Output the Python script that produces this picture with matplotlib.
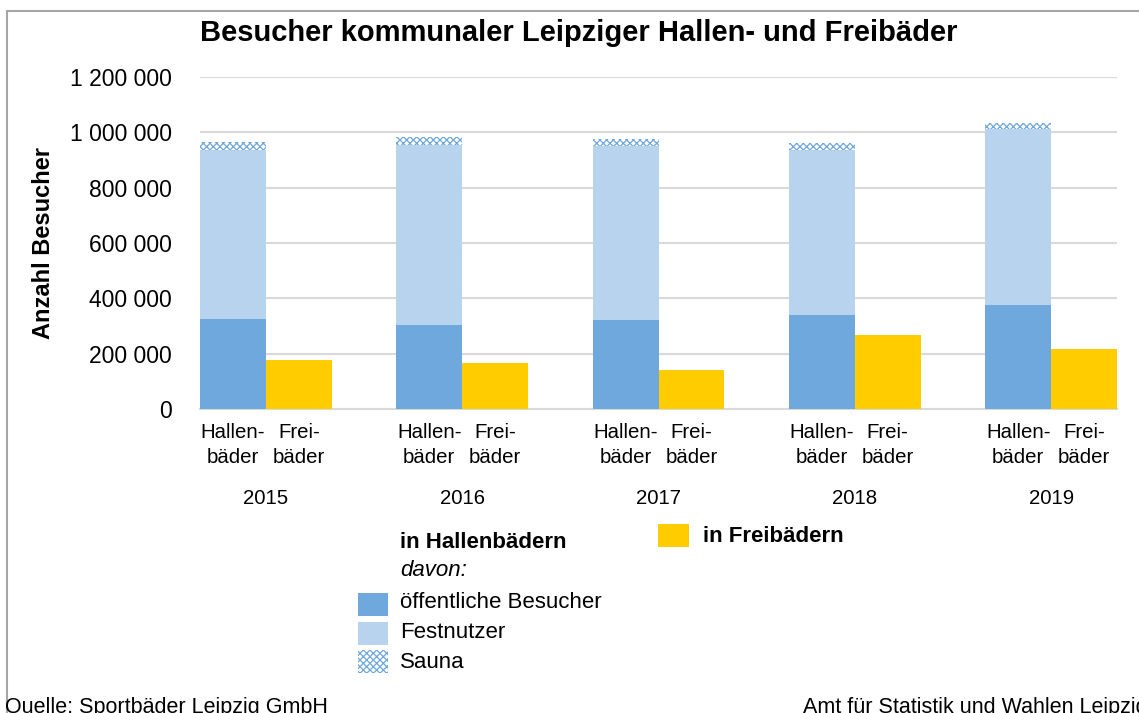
import matplotlib
matplotlib.use("Agg")
import matplotlib.pyplot as plt
from matplotlib.patches import Rectangle
from matplotlib.ticker import FuncFormatter, MultipleLocator

plt.rcParams["font.family"] = ["Liberation Sans", "DejaVu Sans"]
plt.rcParams["hatch.linewidth"] = 0.9

# Data
years = ["2015", "2016", "2017", "2018", "2019"]
oeffentlich = [326000, 304000, 322000, 341000, 377000]
festnutzer = [609000, 652000, 628000, 594000, 634000]
sauna = [29000, 26000, 25000, 25000, 24000]
freibad = [177000, 167000, 141000, 268000, 217000]
sub_labels = ["Hallen-\nbäder", "Frei-\nbäder"]

C_OEFF = "#6FA8DC"
C_FEST = "#B8D3ED"
C_SAUNA = "#6FA8DC"
C_FREI = "#FFCC00"
C_GRID = "#D9D9D9"

W, H = 1139, 713
fig = plt.figure(figsize=(W / 100, H / 100), dpi=100)


def fx(px):
    return px / W


def fy(py):
    return 1 - py / H


# Outer frame
fig.patches.append(Rectangle((fx(7), fy(760)), fx(1200), (760 - 11) / H,
                             transform=fig.transFigure, fill=False,
                             edgecolor="#A6A6A6", linewidth=1.5))

ax_left, ax_right, ax_top, ax_bottom = 200, 1117, 77, 409
ax = fig.add_axes([fx(ax_left), fy(ax_bottom), (ax_right - ax_left) / W,
                   (ax_bottom - ax_top) / H])

w = 0.3356
x = list(range(len(years)))
xh = [i - w / 2 for i in x]
xf = [i + w / 2 for i in x]

ax.bar(xh, oeffentlich, width=w, color=C_OEFF, linewidth=0, zorder=3)
ax.bar(xh, festnutzer, width=w, bottom=oeffentlich, color=C_FEST, linewidth=0, zorder=3)
base2 = [a + b for a, b in zip(oeffentlich, festnutzer)]
ax.bar(xh, sauna, width=w, bottom=base2, color="white", edgecolor=C_SAUNA,
       hatch="xxxxx", linewidth=0, zorder=3)
ax.bar(xf, freibad, width=w, color=C_FREI, linewidth=0, zorder=3)

ax.set_xlim(-w, len(years) - 1 + w)
ax.set_ylim(0, 1200000)
ax.yaxis.set_major_locator(MultipleLocator(200000))
ax.yaxis.set_major_formatter(FuncFormatter(lambda v, _: f"{int(v):,}".replace(",", " ")))
ax.grid(axis="y", color=C_GRID, linewidth=1.5, zorder=0)
ax.set_axisbelow(True)
for s in ["top", "right", "left"]:
    ax.spines[s].set_visible(False)
ax.spines["bottom"].set_color(C_GRID)
ax.spines["bottom"].set_linewidth(1.5)
ax.set_xticks([])
ax.tick_params(axis="y", length=0, pad=20.5, labelsize=16.5, labelcolor="#000000")

# Category labels (two levels)
for i, yr in enumerate(years):
    for xpos, lab in zip((xh[i], xf[i]), sub_labels):
        ax.annotate(lab, xy=(xpos, 0), xycoords=("data", "axes fraction"),
                    xytext=(0, -14), textcoords="offset pixels",
                    ha="center", va="top", fontsize=14.7, linespacing=1.38)
    ax.annotate(yr, xy=(x[i], 0), xycoords=("data", "axes fraction"),
                xytext=(0, -89), textcoords="offset pixels",
                ha="center", va="center", fontsize=14.7)

# Title and axis label
fig.text(fx(579), fy(33), "Besucher kommunaler Leipziger Hallen- und Freibäder",
         ha="center", va="center", fontsize=21, fontweight="bold")
fig.text(fx(44), fy(243), "Anzahl Besucher", rotation=90, ha="center", va="center",
         fontsize=17, fontweight="bold")

# Legend
def legend_patch(x0, y0, x1, y1, **kw):
    fig.patches.append(Rectangle((fx(x0), fy(y1)), (x1 - x0) / W, (y1 - y0) / H,
                                 transform=fig.transFigure, linewidth=0, **kw))


fig.text(fx(400), fy(542), "in Hallenbädern", ha="left", va="center",
         fontsize=16, fontweight="bold")
fig.text(fx(400), fy(571), "davon:", ha="left", va="center", fontsize=16, style="italic")
legend_patch(358, 593, 388, 616, facecolor=C_OEFF)
fig.text(fx(400), fy(603), "öffentliche Besucher", ha="left", va="center", fontsize=16)
legend_patch(358, 622, 388, 645, facecolor=C_FEST)
fig.text(fx(400), fy(633), "Festnutzer", ha="left", va="center", fontsize=16)
legend_patch(358, 650, 388, 673, facecolor="white", edgecolor=C_SAUNA, hatch="xxxxx")
fig.text(fx(400), fy(662), "Sauna", ha="left", va="center", fontsize=16)
legend_patch(658, 524, 689, 547, facecolor=C_FREI)
fig.text(fx(703), fy(537), "in Freibädern", ha="left", va="center",
         fontsize=16, fontweight="bold")

# Footer
fig.text(fx(5), fy(707), "Quelle: Sportbäder Leipzig GmbH", ha="left", va="center",
         fontsize=15.5)
fig.text(fx(803), fy(707), "Amt für Statistik und Wahlen Leipzig", ha="left",
         va="center", fontsize=15.5)

fig.savefig("out.png", dpi=100)
